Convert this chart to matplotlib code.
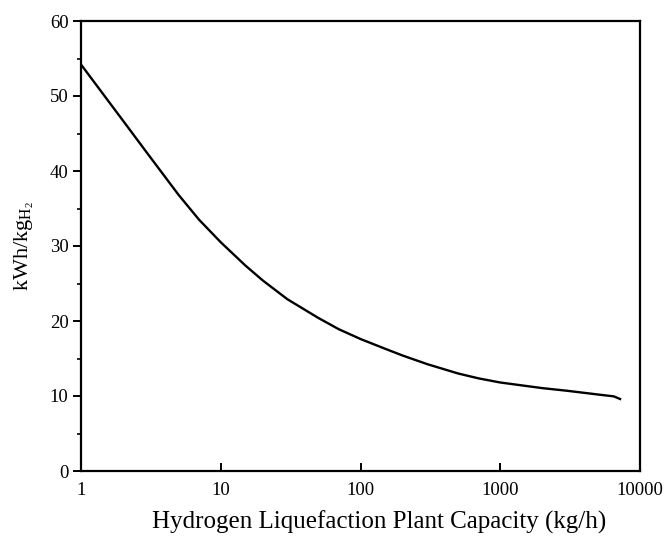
import matplotlib
matplotlib.use("Agg")
import matplotlib.pyplot as plt
from matplotlib.ticker import FixedLocator, NullLocator, FixedFormatter

plt.rcParams['font.family'] = ['Liberation Serif', 'DejaVu Serif']
plt.rcParams['mathtext.fontset'] = 'custom'
plt.rcParams['mathtext.rm'] = 'Liberation Serif'
plt.rcParams['mathtext.it'] = 'Liberation Serif:italic'

# Specific liquefaction energy vs. plant capacity
capacity = [1, 2, 3, 5, 7, 10, 15, 20, 30, 50, 70, 100, 150, 200, 300, 500,
            700, 1000, 2000, 3000, 5000, 6500, 7200]
energy = [54.2, 46.7, 42.3, 36.8, 33.5, 30.5, 27.4, 25.4, 22.9, 20.4, 18.9, 17.6,
          16.3, 15.4, 14.25, 13.0, 12.35, 11.8, 11.05, 10.7, 10.2, 9.95, 9.6]

x_ticks = [1, 10, 100, 1000, 10000]
x_tick_labels = ['1', '10', '100', '1000', '10000']
y_ticks = [0, 10, 20, 30, 40, 50, 60]
y_minor = [5, 15, 25, 35, 45, 55]

fig = plt.figure(figsize=(6.66, 5.36), dpi=100)
ax = fig.add_axes([81/666, 65/536, (640-81)/666, (471-21)/536])

ax.plot(capacity, energy, color='black', lw=1.7)

ax.set_xscale('log')
ax.set_xlim(1, 10000)
ax.set_ylim(0, 60)

ax.xaxis.set_major_locator(FixedLocator(x_ticks))
ax.xaxis.set_major_formatter(FixedFormatter(x_tick_labels))
ax.xaxis.set_minor_locator(NullLocator())
ax.yaxis.set_major_locator(FixedLocator(y_ticks))
ax.yaxis.set_minor_locator(FixedLocator(y_minor))

for s in ax.spines.values():
    s.set_linewidth(1.6)

ax.tick_params(axis='x', which='major', direction='in', length=6, width=1.4,
               labelsize=13.5, pad=8)
ax.tick_params(axis='y', which='major', direction='out', length=6, width=1.4,
               labelsize=13.5, pad=3)
ax.tick_params(axis='y', which='minor', direction='out', length=3, width=1.2)

ax.set_xlabel('Hydrogen Liquefaction Plant Capacity (kg/h)', fontsize=18)
ax.xaxis.set_label_coords(0.533, -0.088)
ax.set_ylabel(r'kWh/kg$_{\mathregular{H_2}}$', fontsize=16, labelpad=10)

fig.savefig('out.png', dpi=100)
